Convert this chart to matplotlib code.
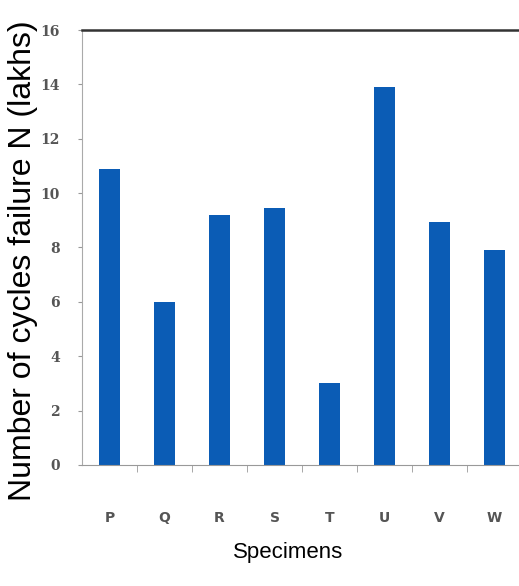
import numpy as np
import matplotlib
matplotlib.use('Agg')
import matplotlib.pyplot as plt
from matplotlib.ticker import MultipleLocator, FixedLocator

# Fatigue life per specimen
specimens = ['P', 'Q', 'R', 'S', 'T', 'U', 'V', 'W']
cycles = [10.9, 6.0, 9.2, 9.45, 3.0, 13.9, 8.95, 7.9]

fig = plt.figure(figsize=(5.19, 5.86), dpi=100)
ax = fig.add_axes([0.158, 0.2065, 0.848, 0.7423])

x = np.arange(len(specimens))
ax.bar(x, cycles, width=0.38, color='#0b5cb5')

ax.set_xlim(-0.5, len(specimens) - 0.5)
ax.set_ylim(0, 16)
ax.yaxis.set_major_locator(MultipleLocator(2))

ax.set_xticks(x)
ax.set_xticklabels(specimens, fontsize=10, color='#555555',
                   family='DejaVu Sans', weight='bold')
ax.xaxis.set_minor_locator(FixedLocator(x[:-1] + 0.5))
ax.tick_params(axis='x', which='major', length=0, pad=33)
ax.tick_params(axis='x', which='minor', length=5, color='#999999', direction='out')
ax.tick_params(axis='y', length=3, color='#999999', labelsize=10, labelcolor='#555555', pad=13)
for lab in ax.get_yticklabels():
    lab.set_family('DejaVu Serif')
    lab.set_weight('bold')

ax.spines['right'].set_visible(False)
ax.spines['top'].set_color('#333333')
ax.spines['top'].set_linewidth(1.8)
ax.spines['left'].set_color('#aaaaaa')
ax.spines['bottom'].set_color('#999999')

ax.set_ylabel('Number of cycles failure N (lakhs)', fontsize=23,
              family=['Liberation Sans', 'DejaVu Sans'], va='center')
ax.yaxis.set_label_coords(-0.134, 0.47)
ax.set_xlabel('Specimens', fontsize=16,
              family=['Liberation Sans', 'DejaVu Sans'], va='center')
ax.xaxis.set_label_coords(0.468, -0.202)

fig.savefig('out.png', dpi=100)
